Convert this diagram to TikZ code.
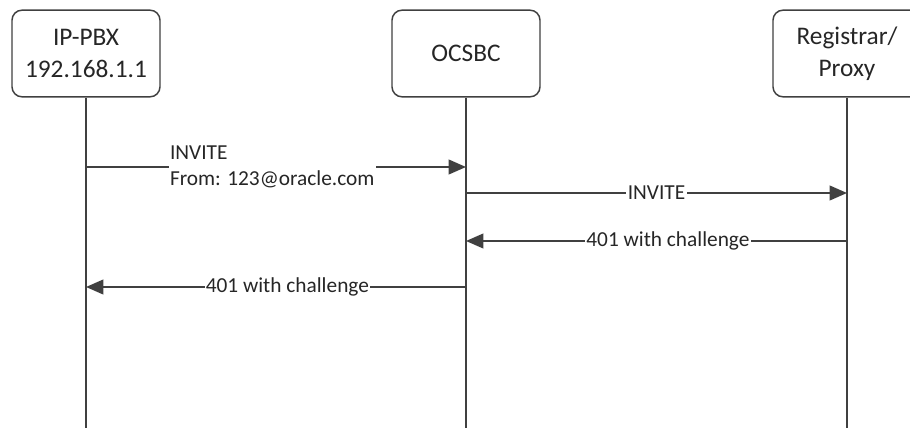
\documentclass[tikz,border=0pt]{standalone}
\usepackage{fontspec}
\setmainfont{Carlito}
\usetikzlibrary{arrows.meta}
\tikzset{
  entity/.style={draw=black!75, line width=1.1pt, rounded corners=7.5pt, fill=white,
    minimum width=111pt, minimum height=65pt, align=center,
    font=\fontsize{19}{24}\selectfont, text=black!85},
  life/.style={draw=black!75, line width=1.5pt},
  msg/.style={draw=black!75, line width=1.5pt, -{Triangle[length=13pt,width=11pt]}},
  lbl/.style={fill=white, inner sep=1pt, font=\fontsize{16}{19.5}\selectfont, text=black!85},
}
\begin{document}
\begin{tikzpicture}[x=0.75pt,y=-0.75pt]
  \useasboundingbox (0,0) rectangle (910,428);
  \node[entity] (pbx) at (86,53.5) {IP-PBX\\192.168.1.1};
  \node[entity] (sbc) at (466,53.5) {OCSBC};
  \node[entity] (reg) at (847,53.5) {Registrar/\\Proxy};
  \foreach \n in {pbx,sbc,reg} { \draw[life] (\n.south) -- (\n.south |- 0,428); }

  \coordinate (pbx1) at (pbx.south |- 0,167);
  \coordinate (sbc1) at (sbc.south |- 0,167);
  \coordinate (sbc2) at (sbc.south |- 0,193);
  \coordinate (reg2) at (reg.south |- 0,193);
  \coordinate (reg3) at (reg.south |- 0,241);
  \coordinate (sbc3) at (sbc.south |- 0,241);
  \coordinate (sbc4) at (sbc.south |- 0,287);
  \coordinate (pbx4) at (pbx.south |- 0,287);

  \draw[msg] (pbx1) -- node[lbl, align=left, pos=0.49] {INVITE\\From: 123@oracle.com} (sbc1);
  \draw[msg] (sbc2) -- node[lbl] {INVITE} (reg2);
  \draw[msg] (reg3) -- node[lbl, pos=0.47] {401 with challenge} (sbc3);
  \draw[msg] (sbc4) -- node[lbl, pos=0.47] {401 with challenge} (pbx4);
\end{tikzpicture}
\end{document}
